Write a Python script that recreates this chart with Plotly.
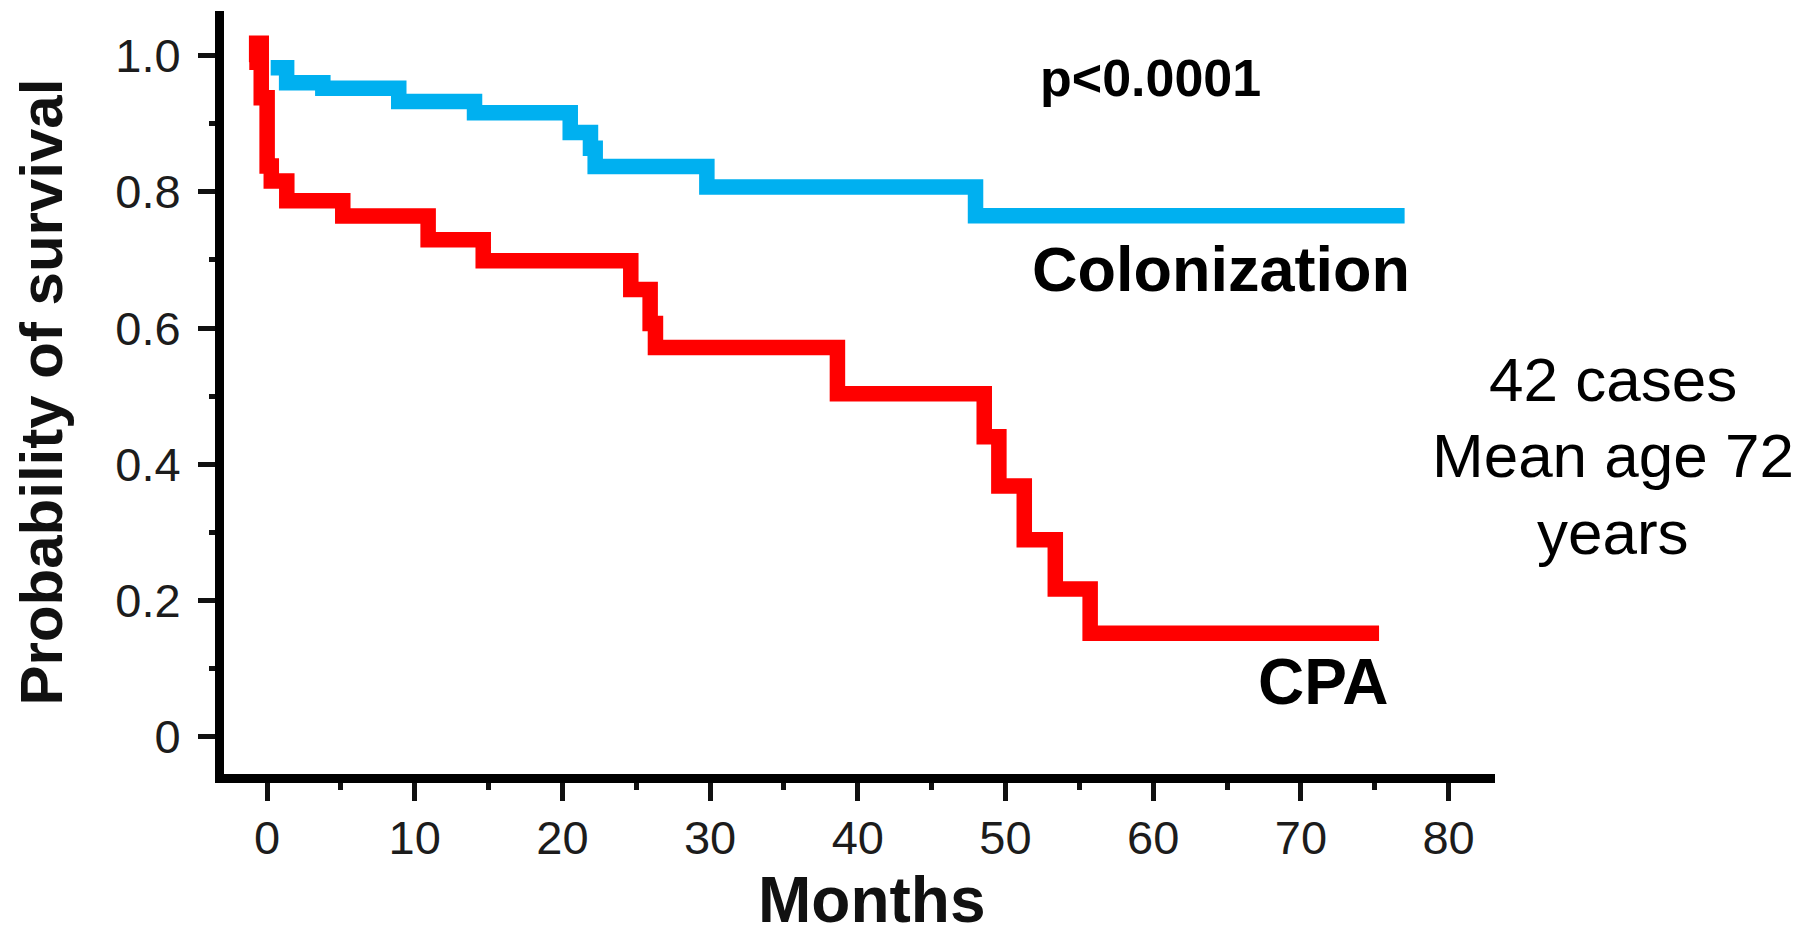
import plotly.graph_objects as go

# ---- data ----
months_colonization = [0.25, 1.33, 3.78, 8.92, 14.05, 20.53, 21.90, 22.22, 29.78, 47.97, 77.02]
surv_colonization = [0.982, 0.960, 0.952, 0.9325, 0.916, 0.887, 0.864, 0.837, 0.807, 0.765, 0.765]

months_cpa = [-1.2, -0.70, -0.39, 0.01, 0.29, 1.34, 5.13, 10.91, 14.64, 24.63, 25.94, 26.30,
              38.62, 48.56, 49.55, 51.27, 53.37, 55.73, 75.29]
surv_cpa = [0.99, 1.018, 0.938, 0.838, 0.816, 0.787, 0.7645, 0.7296, 0.6988, 0.6566, 0.6067,
            0.5715, 0.5036, 0.4405, 0.3683, 0.2894, 0.2172, 0.1522, 0.1522]

x_ticks = [0, 10, 20, 30, 40, 50, 60, 70, 80]
y_ticks = [0, 0.2, 0.4, 0.6, 0.8, 1.0]
y_ticktext = ["0", "0.2", "0.4", "0.6", "0.8", "1.0"]

side_lines = ["42 cases", "Mean age 72", "years"]

FONT = "Liberation Sans, Arial, sans-serif"
BLUE = "#00B0F0"
RED = "#FF0000"

fig = go.Figure()
fig.add_trace(go.Scatter(x=months_colonization, y=surv_colonization, mode="lines",
                         line=dict(color=BLUE, width=15.5, shape="hv"), showlegend=False,
                         name="Colonization"))
fig.add_trace(go.Scatter(x=months_cpa, y=surv_cpa, mode="lines",
                         line=dict(color=RED, width=15.5, shape="hv"), showlegend=False,
                         name="CPA"))

# page body has an 8px margin, so the figure is sized/offset to compensate
fig.update_layout(
    width=1799, height=929,
    margin=dict(l=216, r=312, t=3, b=163, pad=0),
    plot_bgcolor="white", paper_bgcolor="white",
    font=dict(family=FONT, color="#1c1c1c"),
)

fig.update_xaxes(
    range=[-2.911, 83.14], showgrid=False, zeroline=False,
    showline=True, linecolor="black", linewidth=9,
    tickmode="array", tickvals=x_ticks,
    ticks="outside", ticklen=18, tickwidth=5, tickcolor="#111111",
    tickfont=dict(family=FONT, size=47, color="#1c1c1c"),
    ticklabelstandoff=-3,
    minor=dict(ticks="outside", tick0=0, dtick=5, ticklen=7, tickwidth=5,
               tickcolor="#111111", showgrid=False),
)
fig.update_yaxes(
    range=[-0.0543, 1.0653], showgrid=False, zeroline=False,
    showline=True, linecolor="black", linewidth=9,
    tickmode="array", tickvals=y_ticks, ticktext=y_ticktext,
    ticks="outside", ticklen=17, tickwidth=5, tickcolor="#111111",
    tickfont=dict(family=FONT, size=47, color="#1c1c1c"),
    ticklabelstandoff=8,
    minor=dict(ticks="outside", tick0=0, dtick=0.1, ticklen=6, tickwidth=5,
               tickcolor="#111111", showgrid=False),
)

# axis titles
fig.add_annotation(text="<b>Months</b>", xref="paper", yref="paper", x=0.5098, y=-0.1655,
                   xanchor="center", yanchor="middle", showarrow=False, borderpad=0,
                   font=dict(family=FONT, size=64, color="#111111"))
fig.add_annotation(text="<b>Probability of survival</b>", xref="paper", yref="paper",
                   x=-0.1436, y=0.5007, textangle=-90,
                   xanchor="center", yanchor="middle", showarrow=False, borderpad=0,
                   font=dict(family=FONT, size=60, color="#111111"))

# in-plot labels
fig.add_annotation(text="<b>p<0.0001</b>", x=59.84, y=0.9677, xref="x", yref="y",
                   xanchor="center", yanchor="middle", showarrow=False,
                   font=dict(family=FONT, size=52, color="black"))
fig.add_annotation(text="<b>Colonization</b>", x=64.58, y=0.6867, xref="x", yref="y",
                   xanchor="center", yanchor="middle", showarrow=False,
                   font=dict(family=FONT, size=63, color="black"))
fig.add_annotation(text="<b>CPA</b>", x=71.5, y=0.08, xref="x", yref="y",
                   xanchor="center", yanchor="middle", showarrow=False,
                   font=dict(family=FONT, size=64, color="black"))

# side text
side_y = [0.5170, 0.4168, 0.3165]
for txt, yy in zip(side_lines, side_y):
    fig.add_annotation(text=txt, xref="paper", yref="paper", x=1.0925, y=yy,
                       xanchor="center", yanchor="middle", showarrow=False,
                       font=dict(family=FONT, size=62, color="black"))

fig.write_html("out.html")
